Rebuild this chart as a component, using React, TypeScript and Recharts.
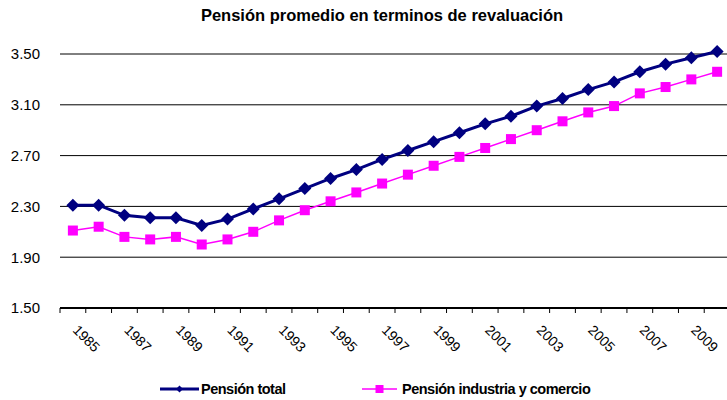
import { LineChart, Line, XAxis, YAxis, CartesianGrid } from 'recharts'

// valores
const YEARS = [
  '1985', '1986', '1987', '1988', '1989', '1990', '1991', '1992', '1993',
  '1994', '1995', '1996', '1997', '1998', '1999', '2000', '2001', '2002',
  '2003', '2004', '2005', '2006', '2007', '2008', '2009', '2010',
]
const PENSION_TOTAL = [
  2.31, 2.31, 2.23, 2.21, 2.21, 2.15, 2.2, 2.28, 2.36, 2.44, 2.52, 2.59, 2.67,
  2.74, 2.81, 2.88, 2.95, 3.01, 3.09, 3.15, 3.22, 3.28, 3.36, 3.42, 3.47, 3.52,
]
const PENSION_INDUSTRIA = [
  2.11, 2.14, 2.06, 2.04, 2.06, 2.0, 2.04, 2.1, 2.19, 2.27, 2.34, 2.41, 2.48,
  2.55, 2.62, 2.69, 2.76, 2.83, 2.9, 2.97, 3.04, 3.09, 3.19, 3.24, 3.3, 3.36,
]
const Y_TICKS = [1.5, 1.9, 2.3, 2.7, 3.1, 3.5]
// marcas del eje X entre categorías (estilo Excel)
const X_BOUNDARIES = Array.from({ length: YEARS.length + 1 }, (_, i) => i)

const NAVY = '#000080'
const MAGENTA = '#FF00FF'
const FONT = '"Liberation Sans", Arial, sans-serif'

const CHART_W = 740
const MARGIN = { top: 3.2, right: 10, left: 0, bottom: 32 }
const Y_AXIS_W = 60
// ancho de una categoría, para centrar la etiqueta entre dos marcas
const STEP = (CHART_W - MARGIN.left - MARGIN.right - Y_AXIS_W) / YEARS.length

const rows = YEARS.map((year, i) => ({
  year,
  pos: i + 0.5,
  total: PENSION_TOTAL[i],
  industria: PENSION_INDUSTRIA[i],
}))

function Diamond(props: any) {
  const { cx, cy, index } = props
  const r = 6.5
  return (
    <polygon
      key={`d-${index}`}
      points={`${cx},${cy - r} ${cx + r},${cy} ${cx},${cy + r} ${cx - r},${cy}`}
      fill={NAVY}
    />
  )
}

function Square(props: any) {
  const { cx, cy, index } = props
  const s = 10
  return <rect key={`s-${index}`} x={cx - s / 2} y={cy - s / 2} width={s} height={s} fill={MAGENTA} />
}

function YearTick(props: any) {
  const { x, y, payload } = props
  const k = payload.value
  if (k % 2 !== 0 || k >= YEARS.length) return <g />
  const px = x + STEP / 2 - 1
  const py = y + 18
  return (
    <text
      x={px}
      y={py}
      transform={`rotate(45, ${px}, ${py})`}
      textAnchor="start"
      fontSize={14}
      fontFamily={FONT}
      fill="#000"
    >
      {YEARS[k]}
    </text>
  )
}

const legendItem = {
  position: 'absolute' as const, top: 380, display: 'flex', alignItems: 'center',
  fontWeight: 'bold', fontSize: 14.5, letterSpacing: -0.5, color: '#000',
}

export default function App() {
  return (
    <div style={{ position: 'relative', width: 727, height: 400, overflow: 'hidden', fontFamily: FONT }}>
      <style>{'body{margin:0}'}</style>
      <div style={{
        position: 'absolute', top: 6, left: 382, transform: 'translateX(-50%)',
        whiteSpace: 'nowrap', fontWeight: 'bold', fontSize: 16.5, color: '#000',
      }}>
        Pensión promedio en terminos de revaluación
      </div>

      <LineChart width={CHART_W} height={400} data={rows} margin={MARGIN}>
        <CartesianGrid vertical={false} horizontalValues={Y_TICKS} stroke="#000" strokeWidth={1} />
        <XAxis
          type="number" dataKey="pos" domain={[0, YEARS.length]} ticks={X_BOUNDARIES}
          allowDataOverflow interval={0} height={60} tickSize={5} tickMargin={0}
          stroke="#000" axisLine={{ strokeWidth: 2 }} tickLine={{ strokeWidth: 1 }}
          tick={<YearTick />}
        />
        <YAxis
          type="number" domain={[1.5, 3.9]} ticks={Y_TICKS} allowDataOverflow
          width={Y_AXIS_W} axisLine={false} tickLine={false} tickSize={0} tickMargin={20}
          tickFormatter={(v: number) => v.toFixed(2)}
          tick={{ fill: '#000', fontSize: 15, fontFamily: FONT }}
        />
        <Line
          dataKey="total" stroke={NAVY} strokeWidth={3}
          dot={<Diamond />} isAnimationActive={false}
        />
        <Line
          dataKey="industria" stroke={MAGENTA} strokeWidth={1.5}
          dot={<Square />} isAnimationActive={false}
        />
      </LineChart>

      <div style={{ ...legendItem, left: 160 }}>
        <svg width={41} height={18}>
          <line x1={0} y1={9} x2={39} y2={9} stroke={NAVY} strokeWidth={3} />
          <polygon points="19.5,5.5 23,9 19.5,12.5 16,9" fill={NAVY} />
        </svg>
        <span>Pensión total</span>
      </div>
      <div style={{ ...legendItem, left: 362 }}>
        <svg width={40} height={18}>
          <line x1={0} y1={9} x2={35} y2={9} stroke={MAGENTA} strokeWidth={1.5} />
          <rect x={13.5} y={5} width={8} height={8} fill={MAGENTA} />
        </svg>
        <span>Pensión industria y comercio</span>
      </div>
    </div>
  )
}
